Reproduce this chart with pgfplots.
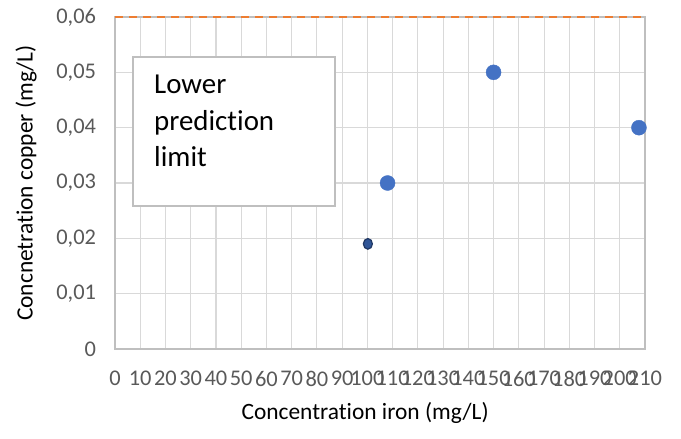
\documentclass[border=0pt]{standalone}
\usepackage{fontspec}
\setmainfont{Carlito}[Ligatures=NoCommon]
\usepackage{pgfplots}
\pgfplotsset{compat=1.18}
\definecolor{gridc}{HTML}{D9D9D9}
\definecolor{axc}{HTML}{BFBFBF}
\definecolor{tickc}{HTML}{595959}
\definecolor{ptc}{HTML}{4472C4}
\definecolor{ptdark}{HTML}{2F5597}
\definecolor{ptedge}{HTML}{203864}
\definecolor{orangec}{HTML}{ED7D31}
\begin{document}
\begin{tikzpicture}
\path[use as bounding box] (-115bp,-90bp) rectangle (566bp,349bp);
\begin{axis}[
  scale only axis,
  width=530bp, height=332bp,
  xmin=0, xmax=210, ymin=0, ymax=0.06,
  scaled y ticks=false, scaled x ticks=false,
  xtick={0,10,...,210},
  xticklabels={0,10,20,30,40,50,60,70,80,90,100,110,120,130,140,150,160,170,180,190,200,210},
  ytick={0,0.01,0.02,0.03,0.04,0.05,0.06},
  yticklabels={0,{0,01},{0,02},{0,03},{0,04},{0,05},{0,06}},
  /pgf/number format/assume math mode=true,
  major tick length=0pt,
  grid=major,
  major grid style={draw=gridc, line width=1.1bp},
  axis line style={draw=axc, line width=1.1bp},
  tick label style={font=\fontsize{22.5}{26}\selectfont, text=tickc},
  yticklabel style={xshift=-15.5bp},
  xticklabel style={yshift=-18.5bp},
  label style={font=\fontsize{23.5}{28}\selectfont, text=black},
  xlabel={Concentration iron (mg/L)},
  ylabel={Concnetration copper (mg/L)},
  xlabel style={at={(axis description cs:0.472,-0.193)}, anchor=center},
  ylabel style={at={(axis description cs:-0.168,0.5)}, anchor=center},
  clip=false,
]
\addplot[orangec, line width=2bp, dash pattern=on 8bp off 6bp] coordinates {(0,0.06) (210,0.06)};
\addplot[only marks, mark=*, mark size=7.5bp, mark options={fill=ptc, draw=ptc}] coordinates {
  (108,0.030) (150,0.050) (207.6,0.040)
};
\addplot[only marks, mark=*, mark size=5.3bp, mark options={fill=ptdark, draw=ptedge, line width=1.2bp, xscale=0.85}] coordinates {
  (100.2,0.019)
};
\end{axis}
\draw[axc, line width=1.3bp, fill=white] (18bp,143bp) rectangle (220bp,292bp);
\node[anchor=base west, inner sep=0pt, font=\fontsize{29}{34}\selectfont] at (39bp,255bp) {Lower};
\node[anchor=base west, inner sep=0pt, font=\fontsize{29}{34}\selectfont] at (39bp,218bp) {prediction};
\node[anchor=base west, inner sep=0pt, font=\fontsize{29}{34}\selectfont] at (39bp,182bp) {limit};
\end{tikzpicture}
\end{document}
